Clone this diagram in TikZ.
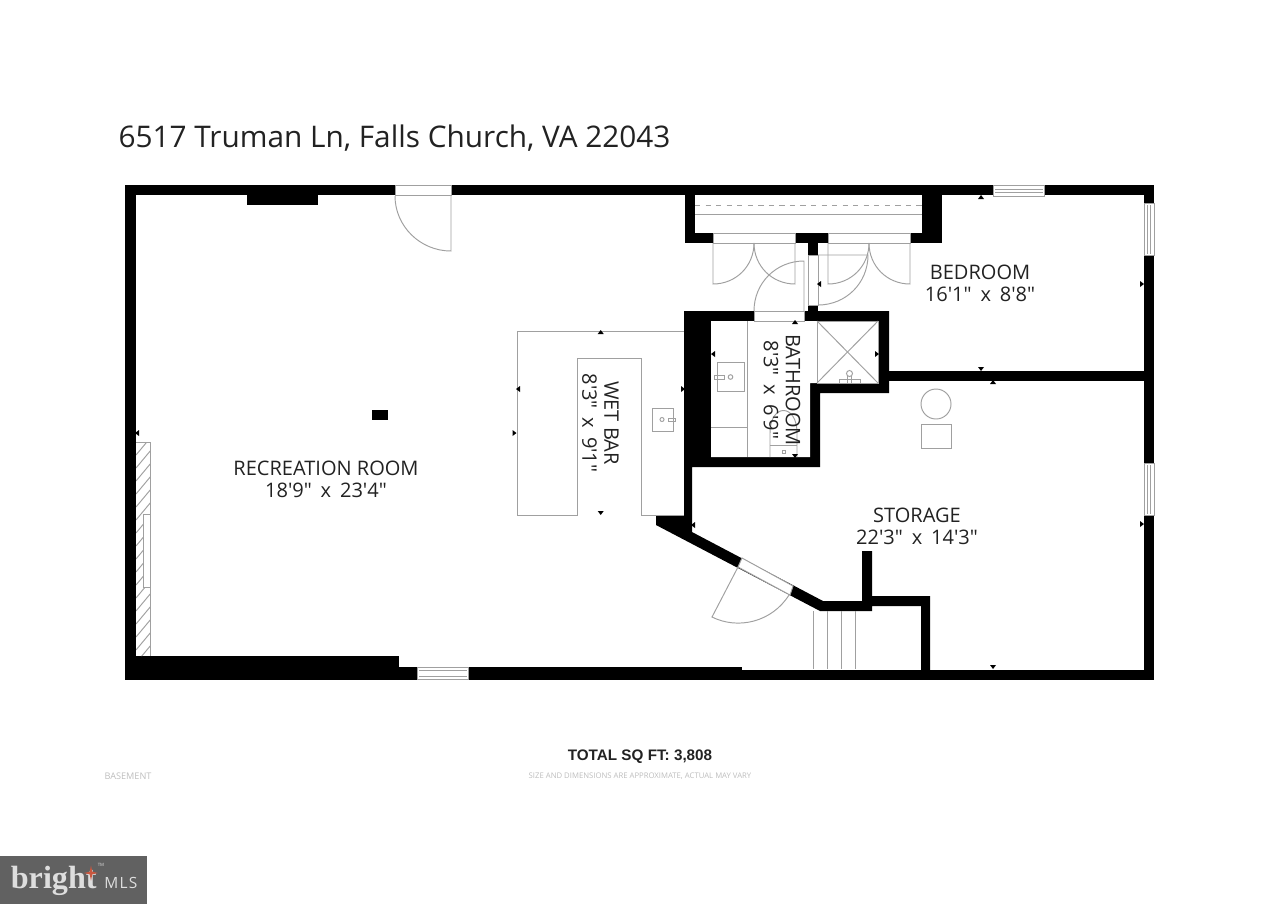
\documentclass[tikz,border=0pt]{standalone}
\usepackage{fontspec}
\newfontfamily\planfont{Open Sans}
\newfontfamily\mlsfont[LetterSpace=8]{Open Sans}
\newfontfamily\boldfont{Liberation Sans}
\newfontfamily\logofont{Liberation Serif}
\usetikzlibrary{positioning}
\newcommand{\wgap}{\hspace{0.44em}}
\definecolor{fixture}{HTML}{A0A0A0}
\definecolor{inktext}{HTML}{222222}
\definecolor{faint}{HTML}{BDBDBD}
\definecolor{logogray}{HTML}{616161}
\definecolor{logotext}{HTML}{DEDEDE}
\definecolor{logostar}{HTML}{C9573F}
\tikzstyle{wall} = [fill=black]
\tikzstyle{fixline} = [draw=fixture, line width=0.55pt]
\tikzstyle{opening} = [fixline, fill=white]
\tikzstyle{tick} = [fill=black]
\tikzstyle{roomlabel} = [text=inktext, align=center, inner sep=0pt, font=\planfont\fontsize{11.4}{12.6}\selectfont]
\tikzstyle{titletext} = [text=inktext, inner sep=0pt, font=\planfont\fontsize{16.95}{20}\selectfont]
\tikzstyle{totaltext} = [text=inktext, inner sep=0pt, font=\boldfont\bfseries\fontsize{8.68}{10}\selectfont]
\tikzstyle{finetext} = [text=faint, inner sep=0pt, font=\planfont\fontsize{4.4}{6}\selectfont]
\begin{document}
\begin{tikzpicture}[x=0.02cm, y=-0.02cm]
    \useasboundingbox (0,0) rectangle (1280,904);

    % outer walls
    \fill [wall] (125,185) rectangle (1154,195);
    \fill [wall] (125,185) rectangle (136,680);
    \fill [wall] (1144,185) rectangle (1154,680);
    \fill [wall] (125,656) rectangle (399,680);
    \fill [wall] (399,667) rectangle (742,680);
    \fill [wall] (742,669.5) rectangle (1154,680);
    \fill [wall] (247,195) rectangle (318,205);
    \fill [wall] (372,410) rectangle (388,420);

    % closet walls
    \fill [wall] (685,195) rectangle (695,243);
    \fill [wall] (922,195) rectangle (942,243);
    \fill [wall] (685,233) rectangle (942,243);
    \fill [wall] (808,243) rectangle (818,255);
    \fill [wall] (808,305) rectangle (818,311);

    % bathroom and storage walls
    \fill [wall] (684,311) -- (889,311) -- (889,393) -- (820,393) -- (820,467) -- (692,467)
        -- (692,532) -- (823,601) -- (862,601) -- (862,551) -- (872,551) -- (872,596)
        -- (930,596) -- (930,670) -- (921,670) -- (921,606) -- (872,606) -- (872,611) -- (820,611)
        -- (656,525) -- (656,515) -- (684,515) -- cycle;
    \fill [white] (711,321) -- (878,321) -- (878,383) -- (810,383) -- (810,457) -- (711,457) -- cycle;
    \fill [wall] (889,371) rectangle (1144,381);

    % openings
    \draw [opening] (395,185.5) rectangle (451,195.5);
    \draw [opening] (713,233) rectangle (795,243);
    \draw [opening] (828,233) rectangle (910,243);
    \draw [opening] (754,311) rectangle (804,321);
    \draw [opening] (808,255) rectangle (818,305);
    \draw [opening] (742,558) -- (793,586) -- (790,595) -- (738,567) -- cycle;
    \foreach \wx in {993,417} {
        \pgfmathsetmacro{\wy}{\wx==993 ? 185.5 : 667}
        \pgfmathsetmacro{\wh}{\wx==993 ? 10.5 : 12.5}
        \fill [white] (\wx,\wy) rectangle +(51.5,\wh);
        \draw [fixline] (\wx,\wy) rectangle +(51.5,\wh);
        \draw [fixline] (\wx+2,\wy+3.5) -- +(47.5,0);
        \draw [fixline] (\wx+2,\wy+\wh-3.5) -- +(47.5,0);
    }
    \foreach \wy in {203,463} {
        \draw [opening] (1144,\wy) rectangle +(10,52.5);
        \draw [fixline] (1147.5,\wy+2) -- +(0,48.5);
        \draw [fixline] (1150.5,\wy+2) -- +(0,48.5);
    }

    % door swings
    \draw [fixline] (451,196) -- (451,251) .. controls (420,251) and (395,226) .. (395,196);
    \draw [fixline] (713,243) -- (713,284) .. controls (736,284) and (754,266) .. (754,243);
    \draw [fixline] (795,243) -- (795,284) .. controls (772,284) and (754,266) .. (754,243);
    \draw [fixline] (828,243) -- (828,284) .. controls (851,284) and (869,266) .. (869,243);
    \draw [fixline] (910,243) -- (910,284) .. controls (887,284) and (869,266) .. (869,243);
    \draw [fixline] (804,311) -- (804,261) .. controls (776,261) and (754,283) .. (754,311);
    \draw [fixline] (818,255) -- (868,255) .. controls (868,283) and (846,305) .. (818,305);
    \draw [fixline] (738,567) -- (712,617) .. controls (738,630) and (772,622) .. (789,595);

    % closet shelf
    \draw [fixline] (695,214) -- (922,214);
    \draw [fixline, dashed] (695,205) -- (922,205);

    % bathroom fixtures
    \draw [fixline] (747,321) -- (747,457);
    \draw [fixline] (711,427) -- (747,427);
    \draw [fixline] (717,362) rectangle (744,391);
    \draw [fixline] (714.5,375) rectangle (724,379);
    \draw [fixline] (730.5,377) circle (2.3);
    \draw [fixline] (817,321) rectangle (878,383);
    \draw [fixline] (817,321) -- (878,383);
    \draw [fixline] (878,321) -- (817,383);
    \draw [fixline] (839,383) -- (839,379) -- (860,379) -- (860,383);
    \draw [fixline] (849.5,373.5) circle (3);
    \draw [fixline] (847.5,376) -- (847.5,383);
    \draw [fixline] (851.5,376) -- (851.5,383);
    \draw [fixline] (770,457) -- (770,433) .. controls (770,403) and (797,403) .. (797,433) -- (797,457);
    \draw [fixline] (770,445) -- (797,445);
    \draw [fixline] (782.5,450) rectangle (785.5,453);

    % storage fixtures
    \draw [fixline] (936,404) circle (15);
    \draw [fixline] (921,424) rectangle (951,448);

    % stairs
    \foreach \sx in {813,827,841,855} {
        \draw [fixline] (\sx,611) -- (\sx,669);
    }

    % wet bar counter
    \draw [fixline] (684,331) -- (517,331) -- (517,515) -- (577,515) -- (577,358) -- (641,358) -- (641,515) -- (684,515);
    \draw [fixline] (652,408) rectangle (673,431);
    \draw [fixline] (668,418) rectangle (675,421.5);
    \draw [fixline] (662,419.5) circle (2);

    % fireplace hatching
    \begin{scope}
        \clip (136,442) -- (150,442) -- (150,514) -- (143,514) -- (143,587) -- (150,587) -- (150,656) -- (136,656) -- cycle;
        \foreach \hy in {442,455,...,690} {
            \draw [fixline] (136,\hy) -- (156,\hy-24);
        }
    \end{scope}
    \draw [fixline] (136,442) -- (150,442) -- (150,656);
    \draw [fixline] (150,514) -- (143,514) -- (143,587) -- (150,587);

    % dimension ticks
    \foreach \tx/\ty in {600.7/334,795/324,981/199,993/384} {
        \fill [tick] (\tx,\ty) ++(-3,0) -- ++(6,0) -- ++(-3,-4) -- cycle;
    }
    \foreach \tx/\ty in {600.7/511,795/454,981/367,993/665} {
        \fill [tick] (\tx,\ty) ++(-3,0) -- ++(6,0) -- ++(-3,4) -- cycle;
    }
    \foreach \tx/\ty in {520/389,715/354,821/284,139/433,695/525} {
        \fill [tick] (\tx,\ty) ++(0,-3) -- ++(0,6) -- ++(-4,-3) -- cycle;
    }
    \foreach \tx/\ty in {512.5/433,681/389,875/354,1140/284,1140/524} {
        \fill [tick] (\tx,\ty) ++(0,-3) -- ++(0,6) -- ++(4,-3) -- cycle;
    }

    % labels
    \node (title) [titletext] at (394.5,138.5) {6517 Truman Ln, Falls Church, VA 22043};
    \node (recroom) [roomlabel] at (326,479) {RECREATION ROOM\\18'9"\wgap x\wgap 23'4"};
    \node (wetbar) [roomlabel, rotate=-90] at (600.5,423) {WET BAR\\8'3"\wgap x\wgap 9'1"};
    \node (bathroom) [roomlabel, rotate=-90] at (782,390) {BATHROOM\\8'3"\wgap x\wgap 6'9"};
    \node (bedroom) [roomlabel] at (980,283) {BEDROOM\\16'1"\wgap x\wgap 8'8"};
    \node (storage) [roomlabel] at (917,526) {STORAGE\\22'3"\wgap x\wgap 14'3"};
    \node (total) [totaltext] at (640,757) {TOTAL SQ FT: 3,808};
    \node (disclaimer) [finetext, below of=total, node distance=0.38cm] {SIZE AND DIMENSIONS ARE APPROXIMATE, ACTUAL MAY VARY};
    \node (basement) [finetext, font=\planfont\fontsize{5.2}{6}\selectfont] at (128,776.5) {BASEMENT};

    % logo
    \node (logobox) [fill=logogray, minimum width=2.94cm, minimum height=0.96cm, inner sep=0pt] at (73.5,880) {};
    \node (brightword) [text=logotext, inner sep=0pt, anchor=base west, font=\logofont\bfseries\fontsize{18.3}{22}\selectfont] at (10.5,888) {bright};
    \node (mlsword) [text=logotext, inner sep=0pt, anchor=base west, font=\mlsfont\fontsize{8.8}{10}\selectfont] at (104,888) {MLS};
    \node (tmmark) [text=logotext, inner sep=0pt, font=\planfont\fontsize{2.5}{3}\selectfont] at (101,865) {TM};
    \fill [logostar] (91,865.5) -- (92.3,871.7) -- (98,873) -- (92.3,874.3) -- (91,880.5) -- (89.7,874.3) -- (84,873) -- (89.7,871.7) -- cycle;
\end{tikzpicture}
\end{document}
